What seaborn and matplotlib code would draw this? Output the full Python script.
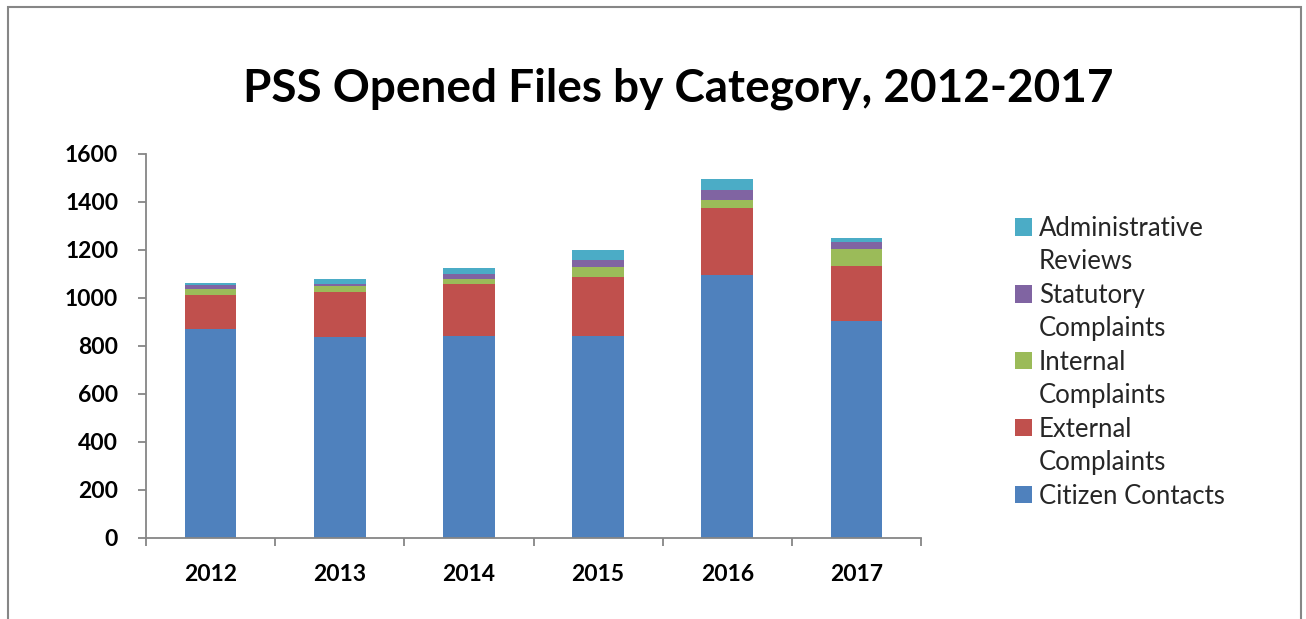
import matplotlib
matplotlib.use("Agg")
import matplotlib.pyplot as plt
import seaborn as sns
import numpy as np
import pandas as pd
from matplotlib.patches import Rectangle, Patch

years = ["2012", "2013", "2014", "2015", "2016", "2017"]
citizen_contacts = [869, 837, 843, 843, 1094, 906]
external_complaints = [145, 190, 214, 245, 282, 226]
internal_complaints = [22, 22, 24, 41, 33, 71]
statutory_complaints = [17, 10, 19, 31, 42, 32]
administrative_reviews = [8, 20, 24, 42, 46, 17]

series_names = ["Citizen Contacts", "External\nComplaints", "Internal\nComplaints",
                "Statutory\nComplaints", "Administrative\nReviews"]
series_values = [citizen_contacts, external_complaints, internal_complaints,
                 statutory_complaints, administrative_reviews]
colors = ["#4F81BD", "#C0504D", "#9BBB59", "#8064A2", "#4BACC6"]
y_ticks = [0, 200, 400, 600, 800, 1000, 1200, 1400, 1600]

sns.set_theme(style="white")
plt.rcParams["font.family"] = ["Lato", "DejaVu Sans"]

W, H = 1306, 619
fig = plt.figure(figsize=(W / 100, H / 100), dpi=100)
ax = fig.add_axes([146 / W, 1 - 538 / H, (921 - 146) / W, (538 - 154) / H])

cum = np.cumsum(np.array(series_values, dtype=float), axis=0)
df = pd.DataFrame({"year": years})
for i in range(len(series_names) - 1, -1, -1):
    df["v"] = cum[i]
    sns.barplot(data=df, x="year", y="v", color=colors[i], saturation=1,
                width=0.4, label=series_names[i], ax=ax, linewidth=0)

ax.set_ylim(0, 1600)
ax.set_xlim(-0.5, 5.5)
ax.set_yticks(y_ticks)
ax.set_xlabel("")
ax.set_ylabel("")
for s in ["top", "right"]:
    ax.spines[s].set_visible(False)
for s in ["left", "bottom"]:
    ax.spines[s].set_color("#868686")
    ax.spines[s].set_linewidth(1.3)

ax.tick_params(axis="y", which="major", direction="out", length=6, width=1.3,
               color="#868686", left=True, pad=14, labelsize=16.5)
ax.set_xticks(np.arange(-0.5, 6.0, 1.0), minor=True)
ax.tick_params(axis="x", which="minor", direction="out", length=6, width=1.3,
               color="#868686", bottom=True)
ax.tick_params(axis="x", which="major", length=0, pad=19, labelsize=16.5)
for lab in ax.get_xticklabels() + ax.get_yticklabels():
    lab.set_fontweight("bold")
    lab.set_color("black")

fig.text(678 / W, 1 - 89 / H, "PSS Opened Files by Category, 2012-2017",
         ha="center", va="center", fontsize=33, fontweight="bold", color="black")

# legend: one row per text line, the colour square on the first line of each entry
handles, labels = ax.get_legend_handles_labels()
leg_h, leg_l = [], []
for h, l in zip(handles, labels):
    parts = l.split("\n")
    leg_h.append(h)
    leg_l.append(parts[0])
    for extra in parts[1:]:
        leg_h.append(Patch(facecolor="none", edgecolor="none"))
        leg_l.append(extra)
leg = ax.legend(leg_h, leg_l, loc="upper left", bbox_to_anchor=(1015 / W, 1 - 216 / H),
                bbox_transform=fig.transFigure, frameon=False, fontsize=18.5,
                handlelength=0.65, handleheight=0.65, handletextpad=0.28,
                labelspacing=0.33, borderpad=0, borderaxespad=0)

fig.patches.append(Rectangle((8 / W, -0.1), (1301 - 8) / W, 1.1 - 7 / H,
                             transform=fig.transFigure, fill=False,
                             edgecolor="#868686", linewidth=1.5))

fig.savefig("out.png", dpi=100, facecolor="white")
